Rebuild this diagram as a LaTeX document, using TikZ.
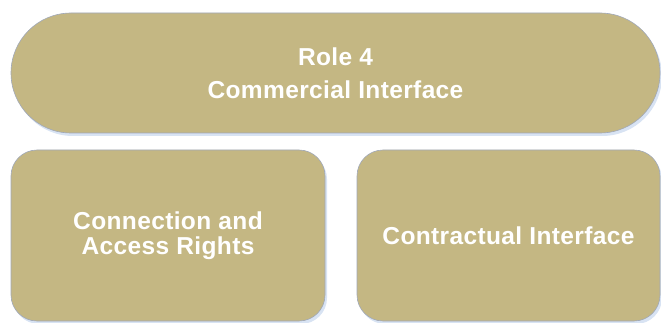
\documentclass[tikz,border=0pt]{standalone}
\usepackage{fontspec}
\setmainfont{Liberation Sans}[LetterSpace=1.5]
\usetikzlibrary{shadows}
\definecolor{roleGold}{RGB}{196,183,131}
\definecolor{roleEdge}{RGB}{160,168,185}
\definecolor{roleGlow}{RGB}{212,224,242}

\begin{document}
\begin{tikzpicture}[x=1pt,y=-1pt,
  role node/.style={draw=roleEdge,line width=0.6pt,fill=roleGold,text=white,
    font=\bfseries\fontsize{24.5}{25}\selectfont,align=center,inner sep=0pt,
    drop shadow={shadow xshift=2pt,shadow yshift=-3pt,fill=roleGlow,opacity=0.9}}]

  \useasboundingbox (0,0) rectangle (661,323);

  \node[role node,minimum width=649pt,minimum height=120pt,rounded corners=60pt]
    (role) at (335.5,73) {Role 4\\[8pt]Commercial Interface};
  \node[role node,minimum width=314pt,minimum height=171pt,rounded corners=26pt]
    (access) at (168,235.5) {Connection and\\Access Rights};
  \node[role node,minimum width=303pt,minimum height=171pt,rounded corners=26pt]
    (contract) at (508.5,235.5) {Contractual Interface};
\end{tikzpicture}
\end{document}
